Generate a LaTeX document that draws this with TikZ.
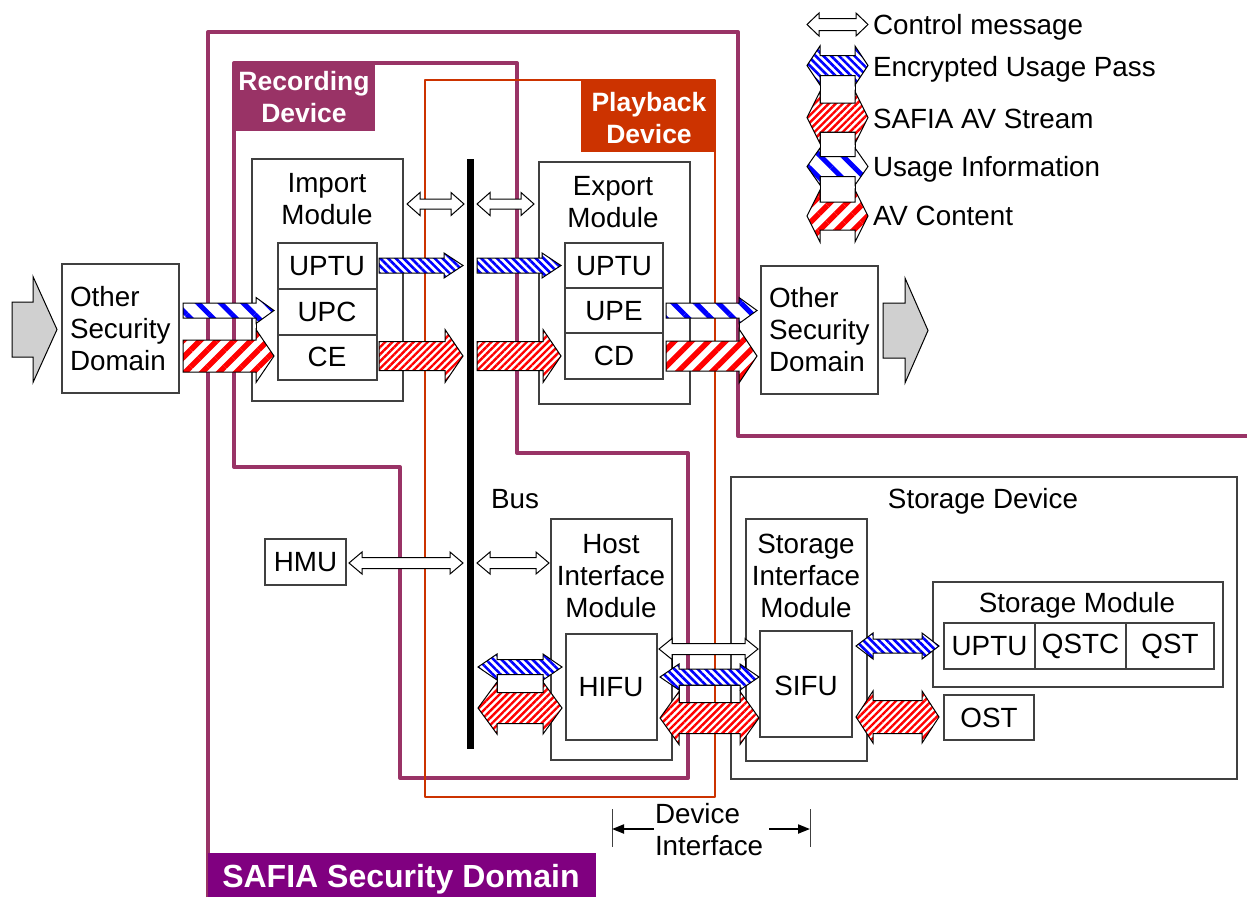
\documentclass[tikz,border=0pt]{standalone}
\usepackage{fontspec}
\setmainfont{Liberation Sans}
\usetikzlibrary{patterns.meta,arrows.meta}
\definecolor{safia}{RGB}{153,51,102}
\definecolor{safiadark}{RGB}{128,0,128}
\definecolor{play}{RGB}{204,51,0}
\definecolor{boxline}{RGB}{64,64,64}
\definecolor{grayfill}{RGB}{208,208,208}
\newcommand{\fs}{\fontsize{27.8}{32}\selectfont}
\newcommand{\fb}{\fontsize{26.5}{32}\selectfont\bfseries}
% double block arrow: style, x1, x2, y, shaft half height, head half height, head length
\newcommand{\DArr}[7]{\path[#1] (#2,#4) -- (#2+#7,#4-#6) -- (#2+#7,#4-#5) -- (#3-#7,#4-#5) -- (#3-#7,#4-#6) -- (#3,#4) -- (#3-#7,#4+#6) -- (#3-#7,#4+#5) -- (#2+#7,#4+#5) -- (#2+#7,#4+#6) -- cycle;}
% single block arrow pointing right
\newcommand{\SArr}[7]{\path[#1] (#2,#4-#5) -- (#3-#7,#4-#5) -- (#3-#7,#4-#6) -- (#3,#4) -- (#3-#7,#4+#6) -- (#3-#7,#4+#5) -- (#2,#4+#5) -- cycle;}
% box node: name, x1, y1, x2, y2
\newcommand{\BoxN}[5]{\node[box, minimum width={#4-#2}, minimum height={#5-#3}] (#1) at ({(#2+#4)/2},{(#3+#5)/2}) {};}
\begin{document}
\begin{tikzpicture}[x=1pt,y=-1pt,
  every node/.style={font=\fs, inner sep=0pt, outer sep=0pt},
  box/.style={draw=boxline, line width=1.3pt, fill=white},
  arrout/.style={draw=black, line width=1pt, line join=miter},
  ctrl/.style={arrout, fill=white},
  blueD/.style={arrout, preaction={fill=white}, pattern={Lines[angle=-45,distance=5.5pt,line width=2.6pt]}, pattern color=blue},
  redD/.style={arrout, preaction={fill=white}, pattern={Lines[angle=45,distance=5pt,line width=2.4pt]}, pattern color=red},
  blueS/.style={arrout, preaction={fill=white}, pattern={Lines[angle=-45,distance=16pt,line width=5pt]}, pattern color=blue},
  redS/.style={arrout, preaction={fill=white}, pattern={Lines[angle=45,distance=12pt,line width=5.5pt]}, pattern color=red},
  grayarr/.style={draw=black, line width=1pt, fill=grayfill},
  link/.style={draw=black, line width=1pt, fill=none},
  dom/.style={draw=safia, line width=4pt, line join=round},
  playl/.style={draw=play, line width=2.8pt, line join=round},
  lbl/.style={font=\fb, text=white, align=center}
]
\useasboundingbox (0,0) rectangle (1247,897);

% ---------- domain outlines ----------
\draw[dom] (208,897) -- (208,32) -- (738,32) -- (738,436) -- (1247,436);
\draw[dom] (234,63) -- (517,63) -- (517,453) -- (688,453) -- (688,778) -- (400,778) -- (400,467) -- (234,467) -- cycle;
\draw[playl] (425,80) -- (715,80) -- (715,797) -- (425,797) -- cycle;

% labels of domains
\node[fill=safiadark, minimum width=388, minimum height=44, anchor=north west] (safiabox) at (208,853) {};
\node[lbl, font=\fontsize{32}{36}\selectfont\bfseries] (safiatext) at (401,879) {SAFIA Security Domain};
\node[fill=safia, minimum width=141, minimum height=68, anchor=north west] (recbox) at (234,63) {};
\node[lbl] (rectext) at (304,97) {Recording\\Device};
\node[fill=play, minimum width=135, minimum height=72, anchor=north west] (playbox) at (581,80) {};
\node[lbl] (playtext) at (649,118) {Playback\\Device};

% ---------- bus ----------
\node[fill=black, minimum width=7, minimum height=590] (bus) at (470.5,454) {};
\node (bustext) at (515,499) {Bus};

% ---------- boxes ----------
\BoxN{osdL}{62}{264}{179}{393}
\node[align=left, anchor=west] (osdLt) at (70,329) {Other\\Security\\Domain};
\BoxN{osdR}{761}{266}{878}{394}
\node[align=left, anchor=west] (osdRt) at (769,330) {Other\\Security\\Domain};

\BoxN{imp}{252}{159}{403}{401}
\node[align=center] (impt) at (327,199) {Import\\Module};
\BoxN{uptuA}{278}{243}{377}{289}
\node (uptuAt) at (327,266) {UPTU};
\BoxN{upc}{278}{289}{377}{335}
\node (upct) at (327,312) {UPC};
\BoxN{ce}{278}{335}{377}{380}
\node (cet) at (327,357) {CE};

\BoxN{exp}{539}{162}{690}{404}
\node[align=center] (expt) at (613,202) {Export\\Module};
\BoxN{uptuB}{565}{243}{663}{288}
\node (uptuBt) at (614,266) {UPTU};
\BoxN{upe}{565}{288}{663}{333}
\node (upet) at (614,311) {UPE};
\BoxN{cd}{565}{333}{663}{379}
\node (cdt) at (614,356) {CD};

\BoxN{hmu}{265}{539}{346}{585}
\node (hmut) at (305.5,562) {HMU};

\BoxN{him}{551}{519}{672}{760}
\node[align=center] (himt) at (611,576) {Host\\Interface\\Module};
\BoxN{hifu}{566}{634}{657}{740}
\node (hifut) at (611,687) {HIFU};

\BoxN{sd}{731}{477}{1237}{779}
\node (sdt) at (983,501) {Storage Device};
\BoxN{sim}{746}{519}{867}{761}
\node[align=center] (simt) at (806,576) {Storage\\Interface\\Module};
\BoxN{sifu}{760}{631}{852}{737}
\node (sifut) at (806,686) {SIFU};
\BoxN{sm}{933}{582}{1223}{687}
\node (smt) at (1077,605) {Storage Module};
\BoxN{uptuC}{944}{623}{1035}{669}
\node (uptuCt) at (989.5,646) {UPTU};
\BoxN{qstc}{1035}{623}{1126}{669}
\node (qstct) at (1080.5,646) {QSTC};
\BoxN{qst}{1126}{623}{1214}{669}
\node (qstt) at (1170,646) {QST};
\BoxN{ost}{944}{695}{1034}{740}
\node (ostt) at (989,717.5) {OST};

% ---------- gray entry/exit arrows ----------
\SArr{grayarr}{12}{57}{329.5}{27.5}{53}{24}
\SArr{grayarr}{883}{928}{330.5}{27.5}{52.5}{23}

% ---------- connector links between stacked arrows ----------
\draw[link] (256,318) -- (256,340);
\draw[link] (739,318) -- (739,341);
\draw[link] (497,674.5) rectangle (543,692.5);
\draw[link] (672,654.5) rectangle (745,669);
\draw[link] (679,685) rectangle (740,702.5);
% legend links
\draw[link] (820,75.5) rectangle (855,103);
\draw[link] (820,132) rectangle (855,156.5);
\draw[link] (820,176.5) rectangle (855,202);

% ---------- flow arrows ----------
% in from other security domain
\SArr{blueS}{183}{274}{310.5}{7.5}{13}{18}
\SArr{redS}{183}{274}{356}{16}{26.5}{18}
% out to other security domain
\SArr{blueS}{666}{757}{310.5}{7.5}{13}{18}
\SArr{redS}{666}{757}{356}{15}{27}{18}
% to and from the bus
\DArr{ctrl}{407}{464}{204}{5}{11.5}{13}
\DArr{ctrl}{477}{534}{204}{5}{11.5}{13}
\SArr{blueD}{379}{463}{265.5}{7.5}{12.5}{19}
\SArr{blueD}{477}{561}{265.5}{7.5}{12.5}{19}
\SArr{redD}{379}{463}{356}{14.5}{26.5}{18}
\SArr{redD}{477}{561}{356}{14.5}{26.5}{18}
\DArr{ctrl}{349}{463}{563}{5.5}{11}{13}
\DArr{ctrl}{477}{549}{563}{5.5}{11}{13}
\DArr{blueD}{478}{562}{667}{7.5}{13}{19}
\DArr{redD}{478}{562}{708}{15.5}{26}{19}
% device interface
\DArr{ctrl}{659}{758}{649}{5.5}{10.5}{13}
\DArr{blueD}{660}{759}{677}{8}{13}{19}
\DArr{redD}{660}{759}{718}{15.5}{26.5}{19}
% storage
\DArr{blueD}{856}{939}{646}{7}{13}{17}
\DArr{redD}{856}{939}{717}{16.5}{26}{17}

% ---------- device interface dimension ----------
\coordinate (diL) at (612,829);
\coordinate (diR) at (810,829);
\draw[boxline, line width=1pt] (612,809) -- (612,847);
\draw[boxline, line width=1pt] (810,809) -- (810,847);
\node[align=left, anchor=west] (devif) at (655,830) {Device\\Interface};
\coordinate (diLs) at (654,829);
\coordinate (diRs) at (769,829);
\draw[line width=2pt, -{Triangle[length=12pt,width=9pt]}] (diLs) -- (diL);
\draw[line width=2pt, -{Triangle[length=12pt,width=9pt]}] (diRs) -- (diR);

% ---------- legend ----------
\DArr{ctrl}{807}{868}{24.5}{6}{11.5}{12}
\DArr{blueD}{807}{868}{65.5}{10}{19.5}{13}
\DArr{redD}{807}{868}{117.5}{14.5}{26}{13}
\DArr{blueS}{807}{868}{166.5}{10}{18.5}{13}
\DArr{redS}{807}{868}{216}{14}{26}{13}
\node[anchor=base west] (lg1) at (873,34) {Control message};
\node[anchor=base west] (lg2) at (873,76) {Encrypted Usage Pass};
\node[anchor=base west] (lg3) at (873,128) {SAFIA AV Stream};
\node[anchor=base west] (lg4) at (873,176) {Usage Information};
\node[anchor=base west] (lg5) at (873,225) {AV Content};
\end{tikzpicture}
\end{document}
